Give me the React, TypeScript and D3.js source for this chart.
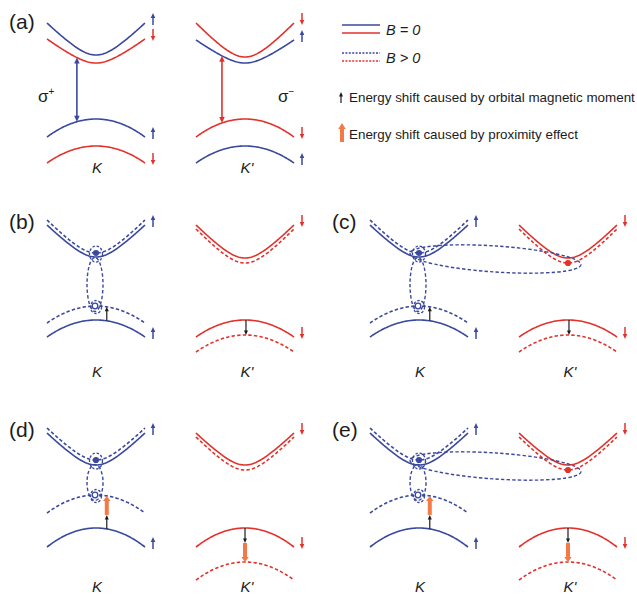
import React from "react";
import * as d3 from "d3";

// ---------------- data ----------------
const valleys = ["K", "K'"];
const panelNames = ["(a)", "(b)", "(c)", "(d)", "(e)"];
const panelScenario = ["B=0", "orbital", "orbital", "orbital+proximity", "orbital+proximity"];
const panelExciton = ["none", "intra", "inter", "intra", "inter"];

// bands: energy (arb. units) at k = 0 and change of energy at |k| = 1
const bandScenario = [
  "B=0", "B=0", "B=0", "B=0", "B=0", "B=0", "B=0", "B=0",
  "orbital", "orbital", "orbital", "orbital", "orbital", "orbital", "orbital", "orbital",
  "orbital+proximity", "orbital+proximity", "orbital+proximity", "orbital+proximity",
  "orbital+proximity", "orbital+proximity", "orbital+proximity", "orbital+proximity",
];
const bandValley = [
  "K", "K", "K", "K", "K'", "K'", "K'", "K'",
  "K", "K", "K", "K", "K'", "K'", "K'", "K'",
  "K", "K", "K", "K", "K'", "K'", "K'", "K'",
];
const bandKind = [
  "c", "c", "v", "v", "c", "c", "v", "v",
  "c", "c", "v", "v", "c", "c", "v", "v",
  "c", "c", "v", "v", "c", "c", "v", "v",
];
const bandSpin = [
  "up", "down", "up", "down", "down", "up", "down", "up",
  "up", "up", "up", "up", "down", "down", "down", "down",
  "up", "up", "up", "up", "down", "down", "down", "down",
];
const bandField = [
  "0", "0", "0", "0", "0", "0", "0", "0",
  "0", ">0", "0", ">0", "0", ">0", "0", ">0",
  "0", ">0", "0", ">0", "0", ">0", "0", ">0",
];
const bandEdge = [
  125, 117, 61, 34, 123, 117, 61, 34,
  123, 127, 60, 74, 122, 117, 60, 45,
  123, 128, 60, 93, 123, 118, 60, 26,
];
const bandDepth = [
  32, 24, 18, 17, 34, 23, 18, 17,
  32, 33, 17, 17, 33, 34, 17, 17,
  32, 32, 19, 18, 32, 33, 19, 18,
];

// optical transitions in panel (a)
const opticalValley = ["K", "K'"];
const opticalSpin = ["up", "down"];
const opticalK = [-0.39, -0.47];
const opticalSign = ["+", "\u2212"];

// energy shift arrows of the valence bands
const shiftScenario = ["orbital", "orbital", "orbital+proximity", "orbital+proximity"];
const shiftValley = ["K", "K'", "K", "K'"];
const shiftK = [0.22, 0.02, 0.22, 0.0];
const orbitalShift = [14, -15, 14, -15];
const proximityShift = [0, 0, 19, -19];

// legend
const legendFieldLabels = ["B = 0", "B > 0"];
const legendArrowLabels = [
  "Energy shift caused by orbital magnetic moment",
  "Energy shift caused by proximity effect",
];

// ---------------- layout / style ----------------
const W = 637, H = 599;
const BLUE = "#3a489d";
const RED = "#e2322c";
const ORANGE = "#f47a45";
const INK = "#1c1c1c";
const FONT = "'Liberation Sans', Arial, Helvetica, sans-serif";
const panelOrigin = [[0, 0], [0, 200], [323, 200], [0, 408], [323, 408]];
const valleyLabelY = [173, 177, 177, 184, 184];

const xValley = d3.scalePoint<string>().domain(valleys).range([96, 245]);
const kScale = (v: string) =>
  d3.scaleLinear().domain([-1, 1]).range([(xValley(v) as number) - 49, (xValley(v) as number) + 49]);
const yE = d3.scaleLinear().domain([0, 180]).range([180, 0]);
const sampleK = d3.range(-1, 1.0001, 0.02);
const spinColor = (s: string) => (s === "up" ? BLUE : RED);

function bandE(i: number, k: number) {
  if (bandKind[i] === "c") {
    const c = 0.45;
    const f = (Math.sqrt(c * c + k * k) - c) / (Math.sqrt(c * c + 1) - c);
    return bandEdge[i] + bandDepth[i] * f;
  }
  return bandEdge[i] - bandDepth[i] * k * k;
}

function Arrow(props: {
  x: number; y1: number; y2: number; color: string; w: number; hl: number; hw: number; both?: boolean;
}) {
  const { x, y1, y2, color, w, hl, hw, both } = props;
  const dir = Math.sign(y2 - y1) || 1;
  const s1 = both ? y1 + dir * hl * 0.8 : y1;
  const s2 = y2 - dir * hl * 0.8;
  return (
    <g>
      <line x1={x} x2={x} y1={s1} y2={s2} stroke={color} strokeWidth={w} />
      <polygon points={`${x},${y2} ${x - hw / 2},${y2 - dir * hl} ${x + hw / 2},${y2 - dir * hl}`} fill={color} />
      {both && (
        <polygon points={`${x},${y1} ${x - hw / 2},${y1 + dir * hl} ${x + hw / 2},${y1 + dir * hl}`} fill={color} />
      )}
    </g>
  );
}

export default function App() {
  const pathOf = (i: number) => {
    const kx = kScale(bandValley[i]);
    return d3.line<number>().x((k) => kx(k)).y((k) => yE(bandE(i, k)))(sampleK) || "";
  };
  const find = (sc: string, v: string, kind: string, field: string) =>
    bandScenario.findIndex((s, i) => s === sc && bandValley[i] === v && bandKind[i] === kind && bandField[i] === field);

  return (
    <svg width={W} height={H} style={{ position: "absolute", left: 0, top: 0 }} fontFamily={FONT}>
      <rect width={W} height={H} fill="#fff" />
      {panelNames.map((name, p) => {
        const [ox, oy] = panelOrigin[p];
        const sc = panelScenario[p];
        const idx = bandScenario.map((s, i) => (s === sc ? i : -1)).filter((i) => i >= 0);
        const dashed = "3.4,2.2";
        // exciton
        let exc: any = null;
        if (panelExciton[p] !== "none") {
          const ei = find(sc, "K", "c", ">0");
          const hi = find(sc, "K", "v", ">0");
          const ex = xValley("K") as number;
          const ey = yE(bandE(ei, 0));
          const hy = yE(bandE(hi, 0));
          let inter: any = null;
          if (panelExciton[p] === "inter") {
            const ri = find(sc, "K'", "c", ">0");
            const rx2 = xValley("K'") as number;
            const ry2 = yE(bandE(ri, 0));
            const cx = (ex + rx2) / 2 + 2;
            const cy = (ey + ry2) / 2 + 1;
            const ang = (Math.atan2(ry2 - ey, rx2 - ex) * 180) / Math.PI;
            const half = Math.hypot(rx2 - ex, ry2 - ey) / 2;
            inter = (
              <g>
                <ellipse cx={cx} cy={cy} rx={half + 11} ry={13} transform={`rotate(${ang},${cx},${cy})`}
                  fill="none" stroke={BLUE} strokeWidth={1.4} strokeDasharray={dashed} />
                <circle cx={rx2} cy={ry2} r={3.1} fill={RED} />
              </g>
            );
          }
          exc = (
            <g>
              <ellipse cx={ex - 1} cy={(ey + hy) / 2 + 5} rx={8} ry={(hy - ey) / 2 + 0.5}
                fill="none" stroke={BLUE} strokeWidth={1.4} strokeDasharray={dashed} />
              <ellipse cx={ex} cy={ey + 1} rx={6.5} ry={8} fill="none" stroke={BLUE} strokeWidth={1.3} strokeDasharray="2.5,1.8" />
              <ellipse cx={ex} cy={hy + 1} rx={5.5} ry={6.5} fill="none" stroke={BLUE} strokeWidth={1.3} strokeDasharray="2.5,1.8" />
              {inter}
              <circle cx={ex} cy={ey} r={3.1} fill={BLUE} />
              <circle cx={ex - 1} cy={hy} r={2.8} fill="#fff" stroke={BLUE} strokeWidth={1.3} />
            </g>
          );
        }
        return (
          <g key={name} transform={`translate(${ox},${oy})`}>
            <text x={9} y={29} fontSize={21} fill={INK}>{name}</text>
            {idx.map((i) => (
              <path key={i} d={pathOf(i)} fill="none" stroke={spinColor(bandSpin[i])} strokeWidth={1.6}
                strokeDasharray={bandField[i] === ">0" ? dashed : undefined} />
            ))}
            {/* spin arrows at solid band ends */}
            {idx.filter((i) => bandField[i] === "0").map((i) => {
              const x = (xValley(bandValley[i]) as number) + 57;
              const ye = yE(bandE(i, 1));
              const up = bandSpin[i] === "up";
              return (
                <Arrow key={"s" + i} x={x} y1={up ? ye + 2 : ye - 10} y2={up ? ye - 10 : ye + 2}
                  color={spinColor(bandSpin[i])} w={1.5} hl={5} hw={4.5} />
              );
            })}
            {/* optical transitions */}
            {sc === "B=0" && opticalValley.map((v, j) => {
              const k = opticalK[j];
              const x = kScale(v)(k);
              const vi = find(sc, v, "v", "0");
              const vb = bandScenario.map((s, i) => i).filter((i) => bandScenario[i] === sc && bandValley[i] === v && bandKind[i] === "v" && bandSpin[i] === opticalSpin[j])[0];
              const cb = bandScenario.map((s, i) => i).filter((i) => bandScenario[i] === sc && bandValley[i] === v && bandKind[i] === "c")
                .sort((a, b) => bandE(a, k) - bandE(b, k))[0];
              void vi;
              const lx = v === "K" ? x - 39 : x + 56;
              return (
                <g key={"o" + j}>
                  <Arrow x={x} y1={yE(bandE(vb, k))} y2={yE(bandE(cb, k))} color={spinColor(opticalSpin[j])}
                    w={1.6} hl={6} hw={5.5} both />
                  <text x={lx} y={102} fontSize={17} fill={INK}>
                    σ<tspan dy={-7} fontSize={10}>{opticalSign[j]}</tspan>
                  </text>
                </g>
              );
            })}
            {/* energy shift arrows */}
            {shiftScenario.map((s, j) => {
              if (s !== sc) return null;
              const v = shiftValley[j];
              const k = shiftK[j];
              const x = kScale(v)(k);
              const si = find(sc, v, "v", "0");
              const e0 = bandE(si, k);
              const e1 = e0 + orbitalShift[j];
              const e2 = e1 + proximityShift[j];
              return (
                <g key={"sh" + j}>
                  <Arrow x={x} y1={yE(e0)} y2={yE(e1)} color={INK} w={1.2} hl={4.5} hw={4} />
                  {proximityShift[j] !== 0 && (
                    <Arrow x={x} y1={yE(e1)} y2={yE(e2)} color={ORANGE} w={4} hl={5} hw={7.5} />
                  )}
                </g>
              );
            })}
            {exc}
            {valleys.map((v) => (
              <text key={v} x={(xValley(v) as number) + (v === "K" ? 1 : 2)} y={valleyLabelY[p]} fontSize={15}
                fontStyle="italic" textAnchor="middle" fill={INK}>{v}</text>
            ))}
          </g>
        );
      })}
      {/* legend */}
      <g>
        {legendFieldLabels.map((lab, j) => {
          const y0 = 25 + j * 28;
          return (
            <g key={lab}>
              <line x1={342} x2={380} y1={y0} y2={y0} stroke={BLUE} strokeWidth={1.5} strokeDasharray={j ? "2,1.4" : undefined} />
              <line x1={342} x2={380} y1={y0 + 8} y2={y0 + 8} stroke={RED} strokeWidth={1.5} strokeDasharray={j ? "2,1.4" : undefined} />
              <text x={386} y={y0 + 10} fontSize={14.5} fontStyle="italic" fill={INK}>{lab}</text>
            </g>
          );
        })}
        {legendArrowLabels.map((lab, j) => {
          const yb = j === 0 ? 102 : 139;
          return (
            <g key={lab}>
              {j === 0 ? (
                <Arrow x={341} y1={103} y2={92} color={INK} w={1.2} hl={4.5} hw={4} />
              ) : (
                <Arrow x={342} y1={142} y2={123} color={ORANGE} w={4} hl={6} hw={7.5} />
              )}
              <text x={349} y={yb} fontSize={13.4} fill={INK}>{lab}</text>
            </g>
          );
        })}
      </g>
    </svg>
  );
}
